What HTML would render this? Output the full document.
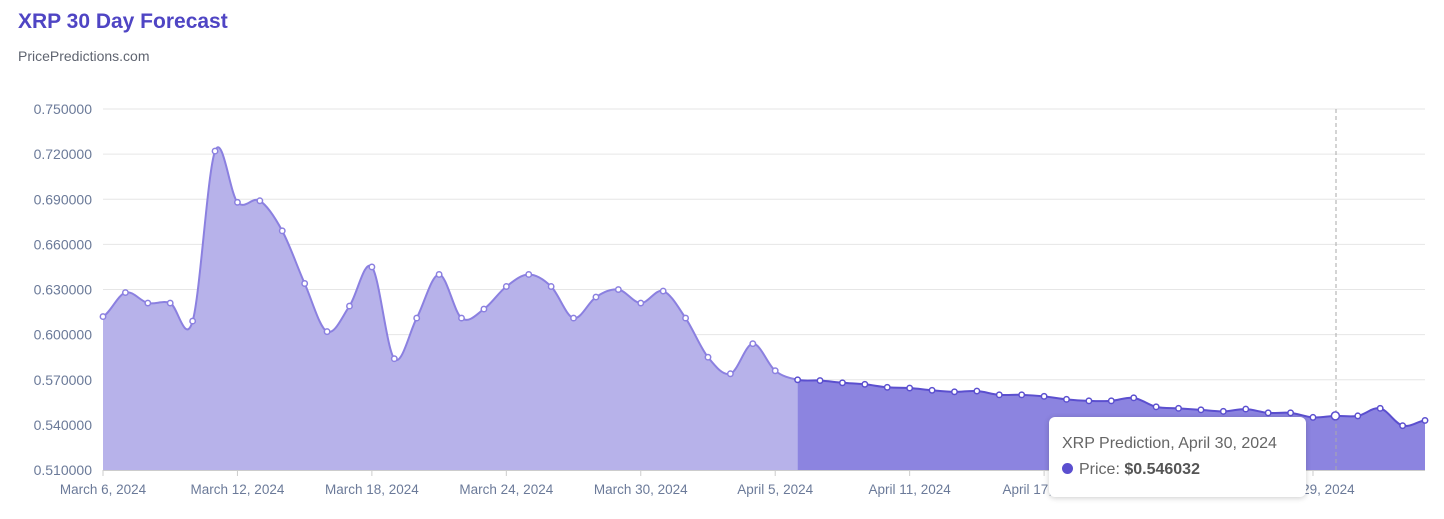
<!DOCTYPE html>
<html><head><meta charset="utf-8"><style>
body{margin:0;background:#fff;font-family:"Liberation Sans",sans-serif;}
#t{position:absolute;left:18px;top:10px;font-size:21px;font-weight:bold;color:#4f45c4;}
#s{position:absolute;left:18px;top:48px;font-size:14px;color:#5f6470;}
#tip{position:absolute;left:1049px;top:417px;width:257px;height:80px;background:#fff;border-radius:6px;box-shadow:0 1px 6px rgba(0,0,0,.2);font-size:16px;color:#666;}
</style></head><body>
<div id="t">XRP 30 Day Forecast</div>
<div id="s">PricePredictions.com</div>
<svg id="c" width="1444" height="519" style="position:absolute;left:0;top:0"></svg>
<div id="tip"><div style="position:absolute;left:13px;top:18px">XRP Prediction, April 30, 2024</div>
<div style="position:absolute;left:13px;top:44px"><span style="display:inline-block;width:11px;height:11px;border-radius:50%;background:#5b4fcf;margin-right:6px"></span>Price: <b style="color:#555">$0.546032</b></div></div>
<script>
var d=[0.612,0.628,0.621,0.621,0.609,0.722,0.688,0.689,0.669,0.634,0.602,0.619,0.645,0.584,0.611,0.640,0.611,0.617,0.632,0.640,0.632,0.611,0.625,0.630,0.621,0.629,0.611,0.585,0.574,0.594,0.576,0.570,0.5695,0.568,0.567,0.565,0.5645,0.563,0.562,0.5625,0.560,0.560,0.559,0.557,0.556,0.556,0.558,0.552,0.551,0.550,0.549,0.5505,0.548,0.548,0.545,0.546,0.546,0.551,0.5395,0.543];
var X=i=>103+i*22.407,Y=v=>109+(0.75-v)*1504.3;
var s='';
for(var k=0;k<=8;k++){var v=0.75-k*0.03,y=Y(v);s+='<line x1="103" x2="1425" y1="'+y+'" y2="'+y+'" stroke="#e6e6e6"/><text x="92" y="'+(y+5)+'" text-anchor="end" font-size="14" fill="#6b7a99">'+v.toFixed(6)+'</text>';}
var lab=['March 6, 2024','March 12, 2024','March 18, 2024','March 24, 2024','March 30, 2024','April 5, 2024','April 11, 2024','April 17, 2024','April 23, 2024','April 29, 2024'];
lab.forEach((l,i)=>{s+='<line x1="'+X(i*6)+'" x2="'+X(i*6)+'" y1="470" y2="476" stroke="#ccc"/><text x="'+X(i*6)+'" y="494" text-anchor="middle" font-size="13.5" fill="#6b7a99">'+l+'</text>';});
function seg(a,b){var p='';for(var i=a;i<b;i++){var p0=d[Math.max(i-1,0)],p1=d[i],p2=d[i+1],p3=d[Math.min(i+2,d.length-1)];
var x1=X(i),x2=X(i+1);p+=' C'+(x1+22.407/3)+','+Y(p1+(p2-p0)/6)+' '+(x2-22.407/3)+','+Y(p2-(p3-p1)/6)+' '+x2+','+Y(p2);}return p;}
var l1='M'+X(0)+','+Y(d[0])+seg(0,31),l2='M'+X(31)+','+Y(d[31])+seg(31,59);
s+='<path d="'+l1+' L'+X(31)+',470 L103,470Z" fill="#b7b2ea"/>';
s+='<path d="'+l2+' L1425,470 L'+X(31)+',470Z" fill="#8c84e0"/>';
s+='<path d="'+l1+'" fill="none" stroke="#8b80e0" stroke-width="2"/>';
s+='<path d="'+l2+'" fill="none" stroke="#5b4fcf" stroke-width="2"/>';
s+='<line x1="103" x2="1425" y1="470.5" y2="470.5" stroke="#ccc"/>';
s+='<line x1="1336" x2="1336" y1="109" y2="470" stroke="#aaa" stroke-dasharray="4,3"/>';
d.forEach((v,i)=>{s+='<circle cx="'+X(i)+'" cy="'+Y(v)+'" r="'+(i==55?4:2.7)+'" fill="#fff" stroke="'+(i<31?'#8b80e0':'#5b4fcf')+'" stroke-width="1.5"/>';});
document.getElementById('c').innerHTML=s;
</script>
</body></html>
